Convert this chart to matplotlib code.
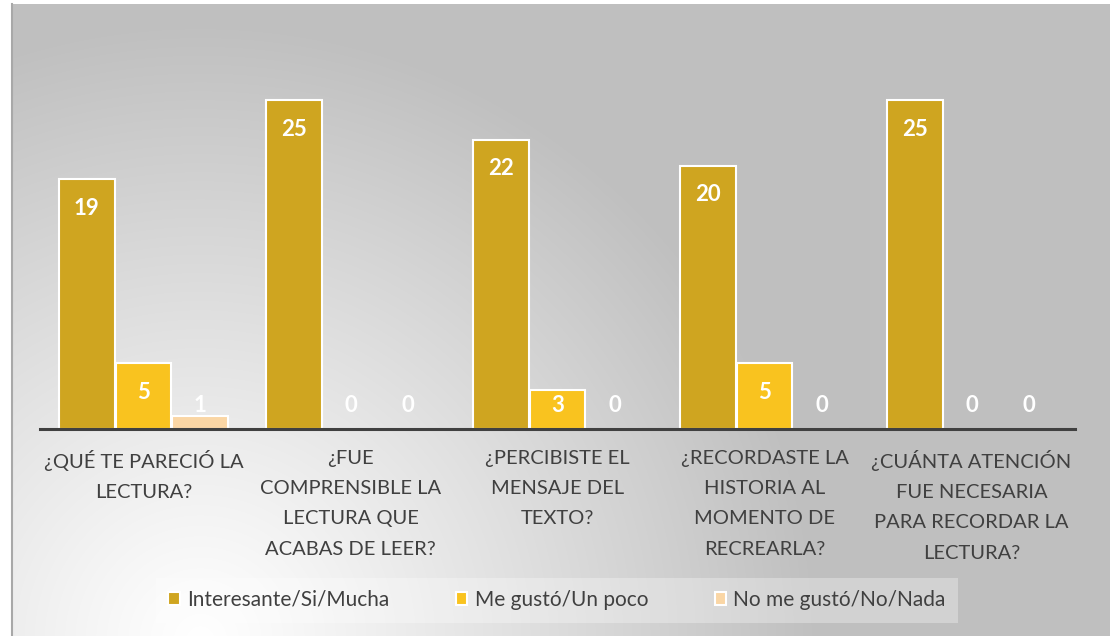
import numpy as np
import matplotlib.pyplot as plt

categories = ['¿QUÉ TE PARECIÓ LA\nLECTURA?',
              '¿FUE\nCOMPRENSIBLE LA\nLECTURA QUE\nACABAS DE LEER?',
              '¿PERCIBISTE EL\nMENSAJE DEL\nTEXTO?',
              '¿RECORDASTE LA\nHISTORIA AL\nMOMENTO DE\nRECREARLA?',
              '¿CUÁNTA ATENCIÓN\nFUE NECESARIA\nPARA RECORDAR LA\nLECTURA?']
series_names = ['Interesante/Si/Mucha', 'Me gustó/Un poco', 'No me gustó/No/Nada']
interesante = [19, 25, 22, 20, 25]
un_poco = [5, 0, 3, 5, 0]
nada = [1, 0, 0, 0, 0]
colors = ['#CFA520', '#F9C31F', '#FAD6A5']

plt.rcParams['font.family'] = ['Lato', 'DejaVu Sans']

W, H = 1110, 636
fig = plt.figure(figsize=(W / 100, H / 100), dpi=100)
fig.patch.set_facecolor('white')

# background: radial gradient inside the chart frame
bg = fig.add_axes([0, 0, 1, 1])
bg.set_xlim(0, W)
bg.set_ylim(H, 0)
bg.axis('off')
yy, xx = np.mgrid[0:H, 0:W]
d = np.sqrt((xx - 200) ** 2 + (yy - 640) ** 2) / 620
d = np.clip(d, 0, 1)
shade = 255 - d ** 1.1 * 64
img = np.dstack([shade, shade, shade]) / 255
img[:4, :, :] = 1
img[:, :11, :] = 1
bg.imshow(img, extent=(0, W, H, 0), aspect='auto', interpolation='bilinear')
bg.plot([11.5, 11.5], [4, H], color='#a8a8a8', lw=1.5)

ax = fig.add_axes([40 / W, 207 / H, 1035 / W, 388 / H])
ax.patch.set_alpha(0)
x = np.arange(len(categories))
bw = 0.27
step = 0.275
for i, (vals, c, name) in enumerate(zip([interesante, un_poco, nada], colors, series_names)):
    pos = x + (i - 1) * step
    ax.bar(pos, vals, width=bw, color=c, edgecolor='white', linewidth=1.5, label=name)
    for p, v in zip(pos, vals):
        ax.text(p, max(v - 2.2, 1.8), str(v), ha='center', va='center',
                color='white', fontsize=16, fontweight='bold')

ax.set_xlim(-0.5, 4.5)
ax.set_ylim(0, 29.5)
ax.set_yticks([])
ax.set_xticks(x)
ax.set_xticklabels(categories, fontsize=14.5, color='#404040', linespacing=1.95)
ax.tick_params(axis='x', length=0, pad=15)
for s in ['top', 'right', 'left']:
    ax.spines[s].set_visible(False)
ax.spines['bottom'].set_color('#404040')
ax.spines['bottom'].set_linewidth(2.2)

leg = fig.legend(loc='center', bbox_to_anchor=(557 / W, 1 - 600 / H), ncol=3,
                 fontsize=15, frameon=True, handlelength=0.55, handleheight=0.55,
                 handletextpad=0.35, columnspacing=3.2, borderpad=0.6)
frame = leg.get_frame()
frame.set_facecolor('white')
frame.set_alpha(0.3)
frame.set_edgecolor('none')
frame.set_boxstyle('square', pad=0)
for t in leg.get_texts():
    t.set_color('#404040')

fig.savefig('out.png', dpi=100)
